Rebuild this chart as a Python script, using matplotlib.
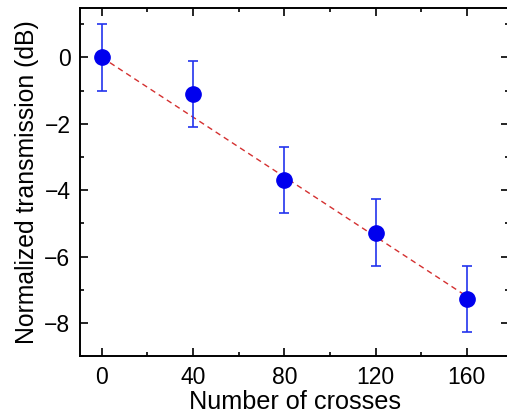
import matplotlib.pyplot as plt
from matplotlib.ticker import MultipleLocator

plt.rcParams['font.family'] = ['Liberation Sans', 'DejaVu Sans']

crosses = [0, 40, 80, 120, 160]
transmission = [0.0, -1.1, -3.7, -5.28, -7.27]
errors = [1.0, 1.0, 1.0, 1.0, 1.0]

fit_x = [0, 160]
fit_y = [0.0, -7.2]


def plot_transmission():
    fig = plt.figure(figsize=(5.07, 4.19), dpi=100)
    # right spine sits just past the image edge, as in the original
    ax = fig.add_axes([0.158, 0.150, 0.846, 0.832])

    ax.plot(fit_x, fit_y, linestyle=(0, (4, 3)), color='#d43030', linewidth=1.0, zorder=2)
    ax.errorbar(crosses, transmission, yerr=errors, fmt='o', color='#0000ee',
                ecolor='#2233ee', elinewidth=1.2, capsize=3.5, capthick=1.2,
                markersize=11, zorder=3)

    ax.set_xlim(-9.5, 178.5)
    ax.set_ylim(-9, 1.5)
    ax.xaxis.set_major_locator(MultipleLocator(40))
    ax.xaxis.set_minor_locator(MultipleLocator(20))
    ax.yaxis.set_major_locator(MultipleLocator(2))
    ax.yaxis.set_minor_locator(MultipleLocator(1))
    ax.tick_params(which='both', direction='in', top=True, right=True,
                   width=1.2, labelsize=16.5, pad=7)
    ax.tick_params(which='major', length=6)
    ax.tick_params(which='minor', length=3)
    for s in ax.spines.values():
        s.set_linewidth(1.4)

    ax.set_xlabel('Number of crosses', fontsize=18.2, labelpad=1)
    ax.set_ylabel('Normalized transmission (dB)', fontsize=17.8, labelpad=4)

    fig.savefig('out.png', dpi=100)


def main():
    plot_transmission()


if __name__ == '__main__':
    main()
